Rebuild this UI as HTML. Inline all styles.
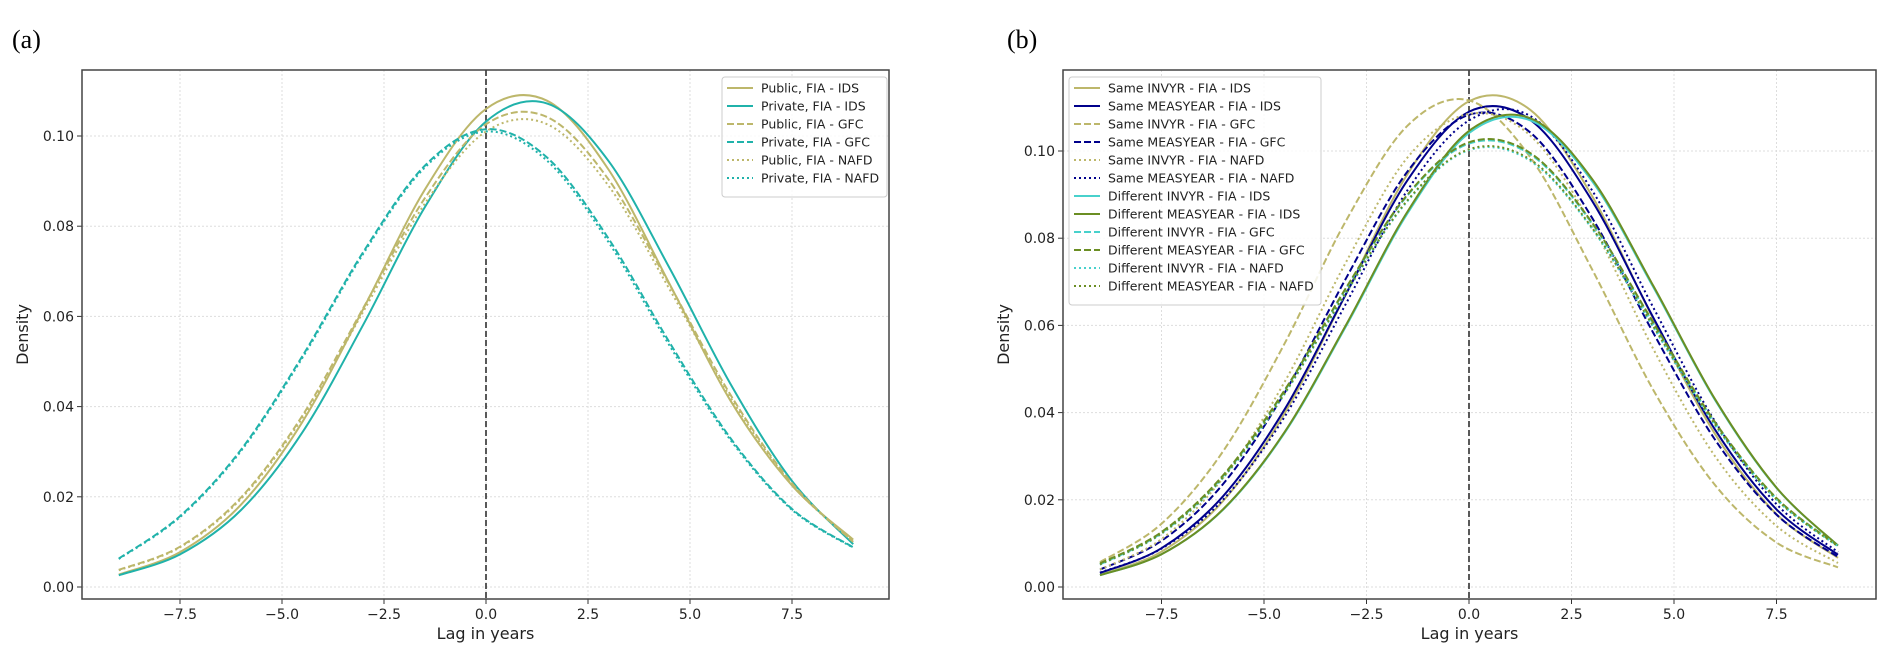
<!DOCTYPE html>
<html><head><meta charset="utf-8">
<style>
html,body{margin:0;padding:0;background:#fff;}
svg{display:block;font-family:"DejaVu Sans","Liberation Sans",sans-serif;}
</style></head>
<body>
<svg id="chart" width="1892" height="663" viewBox="0 0 1892 663" xmlns="http://www.w3.org/2000/svg">
<text x="12" y="48" font-family="Liberation Serif, serif" font-size="26">(a)</text>
<text x="1007" y="48" font-family="Liberation Serif, serif" font-size="26">(b)</text>
<g id="pa"></g>
<g id="pb"></g>
</svg>
<script>
const xs = [-9,-7.5,-6,-4.5,-3,-1.5,0,1.5,3,4.5,6,7.5,9];
const xTicks = [-7.5,-5.0,-2.5,0.0,2.5,5.0,7.5];
const xTickLabels = ["\u22127.5","\u22125.0","\u22122.5","0.0","2.5","5.0","7.5"];
const yTicks = [0,0.02,0.04,0.06,0.08,0.10];
const yTickLabels = ["0.00","0.02","0.04","0.06","0.08","0.10"];

const namesA = ["Public, FIA - IDS","Private, FIA - IDS","Public, FIA - GFC","Private, FIA - GFC","Public, FIA - NAFD","Private, FIA - NAFD"];
const a1 = [.00276,.00774,.0183,.0366,.0618,.0881,.1060,.1078,.0926,.0672,.0412,.0225,.0105];
const a2 = [.0026,.00724,.0171,.0343,.0583,.0842,.1032,.1072,.0945,.0707,.0449,.0235,.0095];
const a3 = [.0038,.00894,.0199,.0380,.0620,.0862,.1026,.1042,.0904,.0670,.0425,.0230,.0100];
const a4 = [.0063,.0157,.0305,.0512,.0744,.0934,.1015,.0952,.0773,.0542,.0329,.0173,.0088];
const a5 = [.0037,.0088,.0196,.0375,.0612,.0850,.1010,.1026,.0890,.0660,.0419,.0227,.0100];
const a6 = [.0062,.0155,.0302,.0508,.0740,.0930,.1010,.0945,.0765,.0535,.0325,.0171,.0087];

const namesB = ["Same INVYR - FIA - IDS","Same MEASYEAR - FIA - IDS","Same INVYR - FIA - GFC","Same MEASYEAR - FIA - GFC","Same INVYR - FIA - NAFD","Same MEASYEAR - FIA - NAFD","Different INVYR - FIA - IDS","Different MEASYEAR - FIA - IDS","Different INVYR - FIA - GFC","Different MEASYEAR - FIA - GFC","Different INVYR - FIA - NAFD","Different MEASYEAR - FIA - NAFD"];
const b1 = [.0028,.0081,.0197,.0398,.0672,.0947,.1114,.1094,.0897,.0614,.0351,.0167,.0067];
const b2 = [.0032,.0089,.0208,.0407,.0672,.0933,.1090,.1071,.0886,.0617,.0361,.0178,.0074];
const b3 = [.0057,.0145,.0311,.0558,.0840,.1058,.1116,.0985,.0729,.0451,.0234,.0102,.0045];
const b4 = [.0040,.0106,.0236,.0445,.0708,.0953,.1083,.1042,.0847,.0582,.0338,.0166,.0069];
const b5 = [.0040,.0110,.0250,.0470,.0745,.0985,.1085,.1035,.0830,.0545,.0300,.0140,.0055];
const b6 = [.0033,.0088,.0200,.0390,.0650,.0910,.1070,.1080,.0910,.0640,.0380,.0190,.0080];
const b7 = [.0027,.0075,.0177,.0353,.0598,.0857,.1041,.1070,.0931,.0687,.0429,.0227,.0095];
const b8 = [.0027,.0075,.0178,.0355,.0601,.0861,.1046,.1075,.0936,.0690,.0431,.0228,.0095];
const b9 = [.0052,.0124,.0254,.0449,.0684,.0898,.1017,.0992,.0834,.0604,.0377,.0203,.0094];
const b10 = [.0054,.0126,.0256,.0451,.0686,.0900,.1020,.0995,.0836,.0606,.0378,.0204,.0095];
const b11 = [.0051,.0122,.0250,.0442,.0674,.0885,.1002,.0977,.0822,.0595,.0371,.0200,.0093];
const b12 = [.0052,.0123,.0252,.0444,.0676,.0887,.1004,.0980,.0824,.0597,.0373,.0201,.0093];

const NS="http://www.w3.org/2000/svg";
function mk(parent,tag,attrs){const e=document.createElementNS(NS,tag);for(const k in attrs)e.setAttribute(k,attrs[k]);parent.appendChild(e);return e;}
function smoothPath(pts){let d="M"+pts[0][0].toFixed(2)+","+pts[0][1].toFixed(2);
 for(let i=0;i<pts.length-1;i++){const p0=pts[Math.max(0,i-1)],p1=pts[i],p2=pts[i+1],p3=pts[Math.min(pts.length-1,i+2)];
  const c1=[p1[0]+(p2[0]-p0[0])/6,p1[1]+(p2[1]-p0[1])/6],c2=[p2[0]-(p3[0]-p1[0])/6,p2[1]-(p3[1]-p1[1])/6];
  d+=" C"+c1[0].toFixed(2)+","+c1[1].toFixed(2)+" "+c2[0].toFixed(2)+","+c2[1].toFixed(2)+" "+p2[0].toFixed(2)+","+p2[1].toFixed(2);}
 return d;}
const dashOf={solid:"",dash:"7,3",dot:"2,3"};

function panel(g,cfg,series){
 const X=v=>cfg.x0+v*cfg.kx, Y=v=>cfg.y0-v*cfg.ky;
 // grid
 xTicks.forEach((t,i)=>{const l=mk(g,"line",{x1:X(t),x2:X(t),y1:cfg.top,y2:cfg.bot,stroke:"#ddd","stroke-width":1,"stroke-dasharray":"2,2"});
  
  
  mk(g,"line",{x1:X(t),x2:X(t),y1:cfg.bot,y2:cfg.bot+5,stroke:"#333"});
  const tx=mk(g,"text",{x:X(t),y:cfg.bot+20,"text-anchor":"middle","font-size":14,fill:"#222"});tx.textContent=xTickLabels[i];
  
  });
 yTicks.forEach((t,i)=>{const l=mk(g,"line",{x1:cfg.left,x2:cfg.right,y1:Y(t),y2:Y(t),stroke:"#ddd","stroke-width":1,"stroke-dasharray":"2,2"});
  
  
  mk(g,"line",{x1:cfg.left-5,x2:cfg.left,y1:Y(t),y2:Y(t),stroke:"#333"});
  const tx=mk(g,"text",{x:cfg.left-8,y:Y(t)+5,"text-anchor":"end","font-size":14,fill:"#222"});tx.textContent=yTickLabels[i];
  
  });
 // vline at 0
 const vl=mk(g,"line",{x1:X(0),x2:X(0),y1:cfg.top,y2:cfg.bot,stroke:"#222","stroke-width":1.5,"stroke-dasharray":"6,3"});
 
 
 series.forEach(s=>{const pts=xs.map((x,i)=>[X(x),Y(s.v[i])]);
  const p=mk(g,"path",{d:smoothPath(pts),fill:"none",stroke:s.c,"stroke-width":s.w||2,"stroke-dasharray":dashOf[s.st]});
  
  });
 const fr=mk(g,"rect",{x:cfg.left,y:cfg.top,width:cfg.right-cfg.left,height:cfg.bot-cfg.top,fill:"none",stroke:"#444","stroke-width":1.5});
 
 
 const xl=mk(g,"text",{x:(cfg.left+cfg.right)/2,y:cfg.bot+40,"text-anchor":"middle","font-size":16,fill:"#222"});xl.textContent="Lag in years";
 
 
 const yl=mk(g,"text",{x:0,y:0,"text-anchor":"middle","font-size":16,fill:"#222",transform:"translate("+(cfg.left-54)+","+((cfg.top+cfg.bot)/2)+") rotate(-90)"});yl.textContent="Density";
 
 
 // legend
 const L=cfg.leg;
 const lb=mk(g,"rect",{x:L.x,y:L.y,width:L.w,height:12+series.length*18,fill:"#fff","fill-opacity":0.85,stroke:"#ccc",rx:3});
 
 
 series.forEach((s,i)=>{const yy=L.y+11+i*18;
  const ln=mk(g,"line",{x1:L.x+5,x2:L.x+31,y1:yy,y2:yy,stroke:s.c,"stroke-width":s.w||2,"stroke-dasharray":dashOf[s.st]});
  
  
  const t=mk(g,"text",{x:L.x+39,y:yy+4.5,"font-size":12.5,fill:"#222"});t.textContent=s.n;
  
  });
}
const KH="#bdb76b",TE="#20b2aa",NV="#00008b",OL="#6b8e23",TL="#48d1cc";
panel(document.getElementById("pa"),{left:82,right:889,top:70,bot:599,x0:486,kx:40.8,y0:587,ky:4510,leg:{x:722,y:77,w:165}},[
 {n:namesA[0],v:a1,c:KH,st:"solid"},{n:namesA[1],v:a2,c:TE,st:"solid"},
 {n:namesA[2],v:a3,c:KH,st:"dash"},{n:namesA[3],v:a4,c:TE,st:"dash"},
 {n:namesA[4],v:a5,c:KH,st:"dot"},{n:namesA[5],v:a6,c:TE,st:"dot"}]);
const colB=[KH,NV,KH,NV,KH,NV,TL,OL,TL,OL,TL,OL], stB=["solid","solid","dash","dash","dot","dot","solid","solid","dash","dash","dot","dot"];
const valsB=[b1,b2,b3,b4,b5,b6,b7,b8,b9,b10,b11,b12];
panel(document.getElementById("pb"),{left:1063,right:1876,top:70,bot:599,x0:1469,kx:41.0,y0:587,ky:4360,leg:{x:1069,y:77,w:252}},
 valsB.map((v,i)=>({n:namesB[i],v:v,c:colB[i],st:stB[i]})));
</script>
</body></html>
